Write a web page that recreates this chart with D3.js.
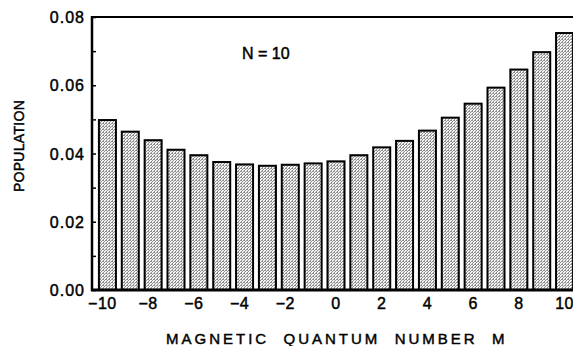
<!DOCTYPE html>
<html>
<head>
<meta charset="utf-8">
<script src="https://cdn.jsdelivr.net/npm/d3@7"></script>
<style>
    body { margin: 0; background: #fff; }
    svg text { font-family: "Liberation Sans", Arial, Helvetica, sans-serif; fill: #000; stroke: #000; stroke-width: 0.45px; }
</style>
</head>
<body>
<div id="chart"></div>
<script>
// magnetic quantum number M and population for N = 10
const mValues = [-10, -9, -8, -7, -6, -5, -4, -3, -2, -1, 0, 1, 2, 3, 4, 5, 6, 7, 8, 9, 10];
const population = [0.0498, 0.0464, 0.0439, 0.0411, 0.0395, 0.0375, 0.0368, 0.0364, 0.0367, 0.0371, 0.0377,
    0.0395, 0.0418, 0.0437, 0.0467, 0.0505, 0.0546, 0.0593, 0.0646, 0.0697, 0.0753];
const yTicks = [0, 0.02, 0.04, 0.06, 0.08];
const yMinorTicks = [0.01, 0.03, 0.05, 0.07];
const xTicks = [-10, -8, -6, -4, -2, 0, 2, 4, 6, 8, 10];

let data = mValues.map((m, i) => ({m: m, value: population[i]}));

let width = 573, height = 346;
let svg = d3.select("#chart").append("svg")
    .attr("width", width)
    .attr("height", height);

// stipple fill like the printed figure
let pat = svg.append("defs").append("pattern")
    .attr("id", "stipple")
    .attr("width", 3).attr("height", 3)
    .attr("patternUnits", "userSpaceOnUse");
pat.append("rect").attr("width", 3).attr("height", 3).attr("fill", "#f2f2f2");
[[0, 0], [2, 1], [1, 2], [1, 0]].forEach(p => {
    pat.append("rect").attr("x", p[0]).attr("y", p[1])
        .attr("width", 1).attr("height", 1).attr("fill", "#8f8f8f");
});

let plotLeft = 92, plotTop = 17, plotBottom = 290;

let x = d3.scaleBand()
    .domain(mValues)
    .range([96, 576])
    .paddingInner(0.256)
    .paddingOuter(0.128);

let y = d3.scaleLinear()
    .domain([0, 0.08])
    .range([plotBottom, plotTop]);

// bars
svg.append("g").selectAll("rect")
    .data(data)
    .enter()
    .append("rect")
    .attr("x", d => x(d.m))
    .attr("y", d => y(d.value))
    .attr("width", x.bandwidth())
    .attr("height", d => y(0) - y(d.value))
    .attr("fill", "url(#stipple)")
    .attr("stroke", "#000")
    .attr("stroke-width", 2);

// y axis with inward ticks
let yAxis = d3.axisRight(y)
    .tickValues(yTicks.concat(yMinorTicks))
    .tickSize(4)
    .tickFormat("");
let yg = svg.append("g")
    .attr("transform", `translate(${plotLeft},0)`)
    .call(yAxis);
yg.select(".domain").remove();
yg.selectAll("line").attr("stroke", "#000").attr("stroke-width", 1.5);

svg.append("g").selectAll("text")
    .data(yTicks)
    .enter()
    .append("text")
    .attr("x", 85)
    .attr("y", d => y(d) + 6)
    .attr("text-anchor", "end")
    .style("font-size", "16px")
    .style("letter-spacing", "1px")
    .text(d => d3.format(".2f")(d));

// frame lines: left, bottom, top
svg.append("line")
    .attr("x1", plotLeft).attr("x2", plotLeft)
    .attr("y1", plotTop - 1).attr("y2", plotBottom + 1)
    .attr("stroke", "#000").attr("stroke-width", 2.5);
svg.append("line")
    .attr("x1", plotLeft - 1).attr("x2", width)
    .attr("y1", plotBottom).attr("y2", plotBottom)
    .attr("stroke", "#000").attr("stroke-width", 3);
svg.append("line")
    .attr("x1", plotLeft - 1).attr("x2", width)
    .attr("y1", plotTop).attr("y2", plotTop)
    .attr("stroke", "#000").attr("stroke-width", 2);

// x tick labels, centred on the digits (minus sign hangs left)
svg.append("g").selectAll("text")
    .data(xTicks)
    .enter()
    .append("text")
    .attr("x", d => x(d) + x.bandwidth() / 2 + (d < 0 ? -5 : 0))
    .attr("y", 309)
    .attr("text-anchor", "middle")
    .style("font-size", "16px")
    .style("letter-spacing", "0.5px")
    .text(d => d < 0 ? "\u2212" + Math.abs(d) : d);

// axis titles
svg.append("text")
    .attr("x", 166)
    .attr("y", 344)
    .attr("xml:space", "preserve")
    .style("white-space", "pre")
    .style("font-size", "15px")
    .style("letter-spacing", "3px")
    .text("MAGNETIC  QUANTUM  NUMBER  M");

svg.append("text")
    .attr("transform", "translate(24,146) rotate(-90)")
    .attr("text-anchor", "middle")
    .style("font-size", "14px")
    .style("letter-spacing", "0.3px")
    .text("POPULATION");

svg.append("text")
    .attr("x", 242)
    .attr("y", 59)
    .style("font-size", "16px")
    .text("N = 10");
</script>
</body>
</html>
